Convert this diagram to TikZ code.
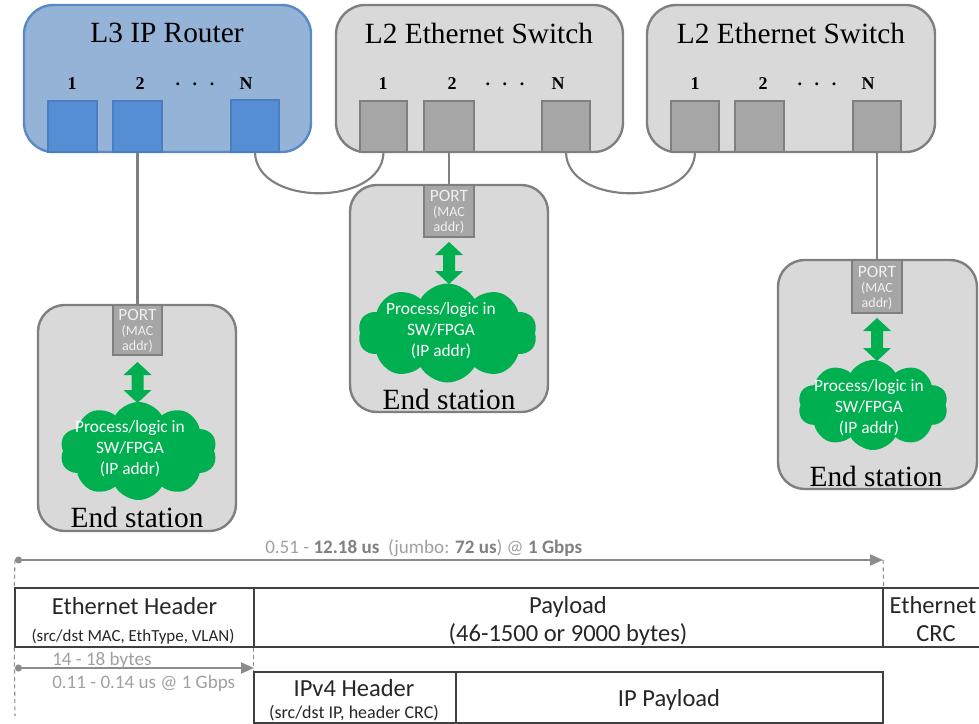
\documentclass[tikz,border=0pt]{standalone}
\usepackage{fontspec}
\setmainfont{Liberation Serif}
\newfontfamily\calib{Carlito}
\usetikzlibrary{shapes.symbols,arrows.meta,fit}

\definecolor{rtrfill}{HTML}{95B3D7}
\definecolor{rtrline}{HTML}{5A8AC6}
\definecolor{rtrport}{HTML}{558ED5}
\definecolor{rtrportline}{HTML}{4A7EC0}
\definecolor{swfill}{HTML}{D9D9D9}
\definecolor{swline}{HTML}{7F7F7F}
\definecolor{swport}{HTML}{A6A6A6}
\definecolor{cable}{HTML}{808080}
\definecolor{procgreen}{HTML}{00B050}
\definecolor{frameline}{HTML}{404040}
\definecolor{measure}{HTML}{8C8C8C}
\definecolor{measuretxt}{HTML}{A0A0A0}
\definecolor{measurebold}{HTML}{808080}

% green two-headed arrow between a port and its process cloud: x, top y, bottom y
\newcommand\portlink[3]{%
  \fill[procgreen] (#1,#2) -- (#1+14,#2+13) -- (#1+6,#2+13) -- (#1+6,#3-13)
    -- (#1+14,#3-13) -- (#1,#3) -- (#1-14,#3-13) -- (#1-6,#3-13)
    -- (#1-6,#2+13) -- (#1-14,#2+13) -- cycle;}

\tikzset{
  box/.style={fit={#1}, inner sep=0pt, rounded corners=22, line width=1.8pt},
  routerbox/.style={box={#1}, draw=rtrline, fill=rtrfill},
  switchbox/.style={box={#1}, draw=swline, fill=swfill},
  stationbox/.style={box={#1}, draw=swline, fill=swfill, rounded corners=20},
  rport/.style={fit={#1}, inner sep=0pt, draw=rtrportline, fill=rtrport, line width=1.2pt},
  sport/.style={fit={#1}, inner sep=0pt, draw=swline, fill=swport, line width=1.2pt},
  devtitle/.style={font=\fontsize{22}{24}\selectfont, inner sep=0pt},
  portnum/.style={font=\fontsize{13.5}{14}\selectfont\bfseries, inner sep=0pt},
  wire/.style={draw=cable, line width=1.6pt},
  macport/.style={fit={#1}, inner sep=0pt, draw=swline, fill=swport, line width=1.2pt},
  mactext/.style={align=center, text=white!94!black, inner sep=0pt,
    font=\calib\fontsize{10.5}{11.3}\selectfont},
  proc/.style={cloud, cloud puffs=10, cloud puff arc=120, fill=procgreen, draw=none,
    inner sep=0pt, minimum width=#1},
  proctext/.style={align=center, text=white, inner sep=0pt,
    font=\calib\fontsize{13}{15.75}\selectfont},
  stationlabel/.style={font=\fontsize{22}{24}\selectfont, inner sep=0pt},
  cell/.style={fit={#1}, inner sep=0pt, draw=frameline, line width=1.1pt},
  celltext/.style={anchor=base, inner sep=0pt, text=black!85,
    font=\calib\fontsize{18.4}{20}\selectfont},
  cellsub/.style={celltext, font=\calib\fontsize{12.7}{14}\selectfont},
  meas/.style={draw=measure, line width=1.4pt,
    {Circle[length=7*0.75pt]}-{Triangle[length=13*0.75pt, width=11*0.75pt]}},
  guide/.style={draw=measure, line width=0.8pt, dash pattern=on 3pt off 2.5pt},
  meastext/.style={anchor=base west, inner sep=0pt, text=measuretxt,
    font=\calib\fontsize{14.3}{16}\selectfont}
}

\begin{document}
\begin{tikzpicture}[x=0.75pt, y=-0.75pt]
\useasboundingbox (0,0) rectangle (979,724);

% ---------- devices ----------
\node[routerbox={(24,5) (311,152)}] (router) {};
\node[devtitle] at (167,33) {L3 IP Router};
\node[portnum] at (72,84) {1};
\node[portnum] at (140,84) {2};
\node[portnum] at (195,84) {.\hspace{0.7em}.\hspace{0.7em}.};
\node[portnum] at (246,84) {N};
\node[rport={(48,101) (97,152)}] (rp1) {};
\node[rport={(113,101) (162,152)}] (rp2) {};
\node[rport={(231,100) (279,152)}] (rpN) {};

\node[switchbox={(336,5) (623,152)}] (swa) {};
\node[devtitle] at (479,33) {L2 Ethernet Switch};
\node[portnum] at (383,84) {1};
\node[portnum] at (452,84) {2};
\node[portnum] at (505,84) {.\hspace{0.7em}.\hspace{0.7em}.};
\node[portnum] at (558,84) {N};
\node[sport={(360,101) (407,152)}] (sa1) {};
\node[sport={(424,101) (474,152)}] (sa2) {};
\node[sport={(542,101) (590,152)}] (saN) {};

\node[switchbox={(647,5) (935,152)}] (swb) {};
\node[devtitle] at (791,33) {L2 Ethernet Switch};
\node[portnum] at (695,84) {1};
\node[portnum] at (763,84) {2};
\node[portnum] at (817,84) {.\hspace{0.7em}.\hspace{0.7em}.};
\node[portnum] at (868,84) {N};
\node[sport={(671,101) (719,152)}] (sb1) {};
\node[sport={(735,101) (784,152)}] (sb2) {};
\node[sport={(853,101) (901,152)}] (sbN) {};

% ---------- end stations ----------
% station 1
\node[stationbox={(38,305) (236,531)}] (es1) {};
\node[macport={(113,305) (162,355)}] (es1p) {};
\node[mactext] at (137.5,331) {{\fontsize{13}{11.3}\selectfont PORT}\\(MAC\\addr)};
\node[proc=157*0.75pt, minimum height=98*0.75pt] (es1c) at (138.5,451) {};
\node[proctext] at (130,449) {Process/logic in\\SW/FPGA\\(IP addr)};
\portlink{137.5}{362}{403}
\node[stationlabel] at (137,517) {End station};

% station 2
\node[stationbox={(350,185) (548,412)}] (es2) {};
\node[macport={(424,185) (474,237)}] (es2p) {};
\node[mactext] at (449,212) {{\fontsize{13}{11.3}\selectfont PORT}\\(MAC\\addr)};
\node[proc=179*0.75pt, minimum height=99*0.75pt] (es2c) at (447.5,333) {};
\node[proctext] at (441,331) {Process/logic in\\SW/FPGA\\(IP addr)};
\portlink{449}{242}{284}
\node[stationlabel] at (449,399) {End station};

% station 3
\node[stationbox={(778,260) (977,489)}] (es3) {};
\node[macport={(852,260) (902,313)}] (es3p) {};
\node[mactext] at (877,288) {{\fontsize{13}{11.3}\selectfont PORT}\\(MAC\\addr)};
\node[proc=150*0.75pt, minimum height=90*0.75pt] (es3c) at (873,405) {};
\node[proctext] at (869,408) {Process/logic in\\SW/FPGA\\(IP addr)};
\portlink{877}{318}{361}
\node[stationlabel] at (876,476) {End station};

% ---------- cabling ----------
\draw[wire] (rp2.south) -- (es1p.north);
\draw[wire] (sa2.south) -- (es2p.north);
\draw[wire] (sbN.south) -- (es3p.north);
\draw[wire] (rpN.south) .. controls +(2,54) and +(-2,54) .. (sa1.south);
\draw[wire] (saN.south) .. controls +(2,54) and +(-2,54) .. (sb1.south);

% ---------- frame layout ----------
\node[cell={(15,588) (254,647)}] (ethhdr) {};
\node[cell={(254,588) (883,647)}] (payload) {};
\node[cell={(883,588) (985,647)}] (ethcrc) {};
\node[cell={(254,672) (456,723)}] (iphdr) {};
\node[cell={(456,672) (883,723)}] (ippay) {};

\node[celltext] at (134.5,614) {Ethernet Header};
\node[cellsub]  at (133,641) {(src/dst MAC, EthType, VLAN)};
\node[celltext] at (568,613) {Payload};
\node[celltext] at (568,641) {(46-1500 or 9000 bytes)};
\node[celltext] at (933,613) {Ethernet};
\node[celltext] at (936,641) {CRC};
\node[celltext] at (354,696) {IPv4 Header};
\node[cellsub, font=\calib\fontsize{13.5}{14}\selectfont] at (354,718) {(src/dst IP, header CRC)};
\node[celltext] at (669,706) {IP Payload};

% ---------- timing guides ----------
\coordinate (fstart) at (15,560);
\coordinate (fend) at (883,560);
\coordinate (hstart) at (15,668);
\coordinate (hend) at (254,668);
\draw[guide] (fstart) -- (ethhdr.north west);
\draw[guide] (ethhdr.south west) -- (15,716);
\draw[guide] (fend) -- (payload.north east);
\draw[guide] (payload.south west) -- (iphdr.north west);
\draw[meas] (fstart) -- (fend);
\draw[meas] (hstart) -- (hend);

\node[meastext] at (265,553) {0.51 - {\color{measurebold}\bfseries 12.18 us}\ \ (jumbo: {\color{measurebold}\bfseries 72 us}) @ {\color{measurebold}\bfseries 1 Gbps}};
\node[meastext] at (52,665) {14 - 18 bytes};
\node[meastext] at (52,688) {0.11 - 0.14 us @ 1 Gbps};
\end{tikzpicture}
\end{document}
